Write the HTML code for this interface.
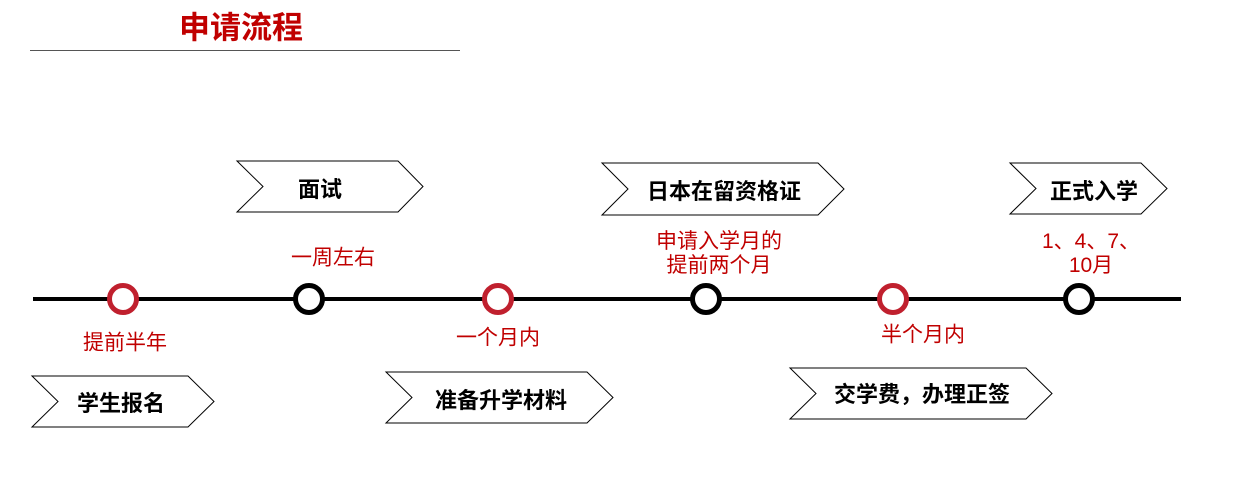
<!DOCTYPE html>
<html><head><meta charset="utf-8"><style>
body{margin:0;width:1238px;height:491px;background:#fff;overflow:hidden;position:relative;font-family:"Liberation Sans","Noto Sans CJK SC",sans-serif}
.t{position:absolute;transform:translate(-50%,-50%);white-space:nowrap;line-height:1.2}
.r{color:#c00000;font-size:21px;text-align:center}
.b{color:#000;font-weight:bold;font-size:22px}
</style></head><body>
<svg width="1238" height="491" style="position:absolute;left:0;top:0">
<line x1="30" y1="50.5" x2="460" y2="50.5" stroke="#555" stroke-width="1"/>
<line x1="33" y1="299" x2="1181" y2="299" stroke="#000" stroke-width="4"/>
<g fill="#fff" stroke="#000" stroke-width="1">
<polygon points="32,376 188,376 214,401.5 188,427 32,427 58,401.5"/>
<polygon points="237,161 398,161 423,186.5 398,212 237,212 263,186.5"/>
<polygon points="386,372 587,372 613,397.5 587,423 386,423 412,397.5"/>
<polygon points="602,163 818,163 844,189 818,215 602,215 628,189"/>
<polygon points="790,368 1026,368 1052,393.5 1026,419 790,419 816,393.5"/>
<polygon points="1010,163 1141,163 1167,188.5 1141,214 1010,214 1036,188.5"/>
</g>
<g fill="#fff" stroke-width="5">
<circle cx="123" cy="299" r="13.5" stroke="#c0202e"/>
<circle cx="309" cy="299" r="13.5" stroke="#000"/>
<circle cx="498" cy="299" r="13.5" stroke="#c0202e"/>
<circle cx="706" cy="299" r="13.5" stroke="#000"/>
<circle cx="893" cy="299" r="13.5" stroke="#c0202e"/>
<circle cx="1079" cy="299" r="13.5" stroke="#000"/>
</g>
</svg>
<div class="t" style="left:241px;top:28px;color:#c00000;font-weight:bold;font-size:31px">申请流程</div>
<div class="t b" style="left:121px;top:404px">学生报名</div>
<div class="t b" style="left:320px;top:190px">面试</div>
<div class="t b" style="left:501px;top:401px">准备升学材料</div>
<div class="t b" style="left:724px;top:192px">日本在留资格证</div>
<div class="t b" style="left:922px;top:395px">交学费，办理正签</div>
<div class="t b" style="left:1094px;top:192px">正式入学</div>
<div class="t r" style="left:333px;top:258px">一周左右</div>
<div class="t r" style="left:125px;top:343px">提前半年</div>
<div class="t r" style="left:498px;top:338px">一个月内</div>
<div class="t r" style="left:719px;top:254px;line-height:24px">申请入学月的<br>提前两个月</div>
<div class="t r" style="left:923px;top:335px">半个月内</div>
<div class="t r" style="left:1091px;top:254px;line-height:24px">1、4、7、<br>10月</div>
</body></html>
